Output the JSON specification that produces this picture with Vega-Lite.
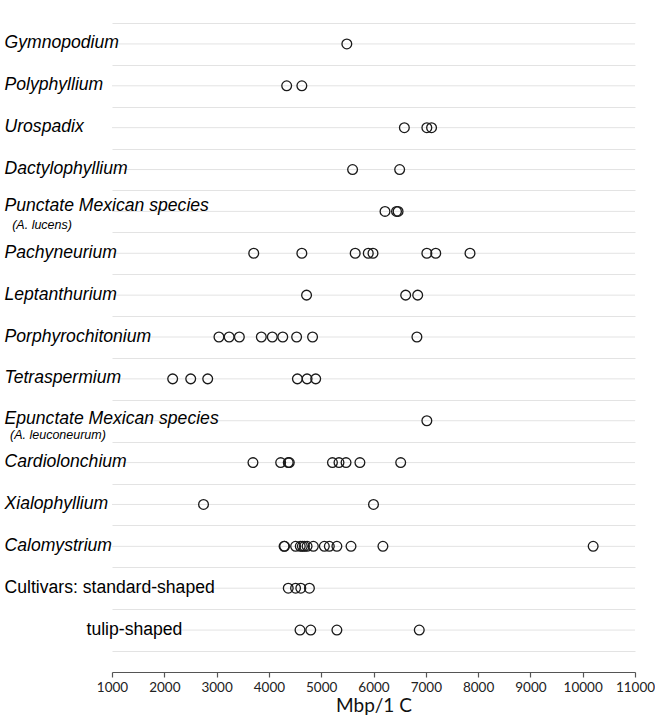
{
  "$schema": "https://vega.github.io/schema/vega-lite/v6.json",
  "width": 523,
  "height": 628,
  "padding": {"left": 4, "top": 14, "right": 0, "bottom": 0},
  "background": "white",
  "config": {"view": {"stroke": null}},
  "data": {
    "values": [
      {"section": "Gymnopodium", "genome": 5490},
      {"section": "Polyphyllium", "genome": 4340},
      {"section": "Polyphyllium", "genome": 4630},
      {"section": "Urospadix", "genome": 6590},
      {"section": "Urospadix", "genome": 7020},
      {"section": "Urospadix", "genome": 7110},
      {"section": "Dactylophyllium", "genome": 5600},
      {"section": "Dactylophyllium", "genome": 6500},
      {"section": "Punctate Mexican species", "genome": 6220},
      {"section": "Punctate Mexican species", "genome": 6440},
      {"section": "Punctate Mexican species", "genome": 6470},
      {"section": "Pachyneurium", "genome": 3710},
      {"section": "Pachyneurium", "genome": 4630},
      {"section": "Pachyneurium", "genome": 5650},
      {"section": "Pachyneurium", "genome": 5900},
      {"section": "Pachyneurium", "genome": 5990},
      {"section": "Pachyneurium", "genome": 7020},
      {"section": "Pachyneurium", "genome": 7190},
      {"section": "Pachyneurium", "genome": 7845},
      {"section": "Leptanthurium", "genome": 4720},
      {"section": "Leptanthurium", "genome": 6615},
      {"section": "Leptanthurium", "genome": 6845},
      {"section": "Porphyrochitonium", "genome": 3045},
      {"section": "Porphyrochitonium", "genome": 3240},
      {"section": "Porphyrochitonium", "genome": 3435},
      {"section": "Porphyrochitonium", "genome": 3855},
      {"section": "Porphyrochitonium", "genome": 4065},
      {"section": "Porphyrochitonium", "genome": 4265},
      {"section": "Porphyrochitonium", "genome": 4530},
      {"section": "Porphyrochitonium", "genome": 4835},
      {"section": "Porphyrochitonium", "genome": 6830},
      {"section": "Tetraspermium", "genome": 2160},
      {"section": "Tetraspermium", "genome": 2505},
      {"section": "Tetraspermium", "genome": 2830},
      {"section": "Tetraspermium", "genome": 4545},
      {"section": "Tetraspermium", "genome": 4730},
      {"section": "Tetraspermium", "genome": 4895},
      {"section": "Epunctate Mexican species", "genome": 7020},
      {"section": "Cardiolonchium", "genome": 3695},
      {"section": "Cardiolonchium", "genome": 4225},
      {"section": "Cardiolonchium", "genome": 4370},
      {"section": "Cardiolonchium", "genome": 4390},
      {"section": "Cardiolonchium", "genome": 5215},
      {"section": "Cardiolonchium", "genome": 5340},
      {"section": "Cardiolonchium", "genome": 5475},
      {"section": "Cardiolonchium", "genome": 5740},
      {"section": "Cardiolonchium", "genome": 6520},
      {"section": "Xialophyllium", "genome": 2750},
      {"section": "Xialophyllium", "genome": 6000},
      {"section": "Calomystrium", "genome": 4290},
      {"section": "Calomystrium", "genome": 4300},
      {"section": "Calomystrium", "genome": 4510},
      {"section": "Calomystrium", "genome": 4600},
      {"section": "Calomystrium", "genome": 4640},
      {"section": "Calomystrium", "genome": 4680},
      {"section": "Calomystrium", "genome": 4730},
      {"section": "Calomystrium", "genome": 4850},
      {"section": "Calomystrium", "genome": 5060},
      {"section": "Calomystrium", "genome": 5155},
      {"section": "Calomystrium", "genome": 5300},
      {"section": "Calomystrium", "genome": 5570},
      {"section": "Calomystrium", "genome": 6180},
      {"section": "Calomystrium", "genome": 10200},
      {"section": "Cultivars: standard-shaped", "genome": 4370},
      {"section": "Cultivars: standard-shaped", "genome": 4510},
      {"section": "Cultivars: standard-shaped", "genome": 4610},
      {"section": "Cultivars: standard-shaped", "genome": 4775},
      {"section": "tulip-shaped", "genome": 4595},
      {"section": "tulip-shaped", "genome": 4800},
      {"section": "tulip-shaped", "genome": 5300},
      {"section": "tulip-shaped", "genome": 6875}
    ]
  },
  "resolve": {"axis": {"y": "independent"}},
  "layer": [
    {
      "transform": [{"aggregate": [{"op": "count", "as": "n"}], "groupby": ["section"]}],
      "mark": {"type": "rule", "color": "#e3e3e3", "strokeWidth": 1},
      "encoding": {
        "y": {
          "field": "section",
          "type": "nominal",
          "scale": {
            "type": "band",
            "paddingInner": 0,
            "paddingOuter": 0,
            "domain": ["Gymnopodium", "Polyphyllium", "Urospadix", "Dactylophyllium", "Punctate Mexican species", "Pachyneurium", "Leptanthurium", "Porphyrochitonium", "Tetraspermium", "Epunctate Mexican species", "Cardiolonchium", "Xialophyllium", "Calomystrium", "Cultivars: standard-shaped", "tulip-shaped"]
          },
          "axis": {
            "orient": "left",
            "title": null,
            "grid": false,
            "domain": false,
            "ticks": false,
            "tickSize": 0,
            "labelExpr": "datum.value == 'Punctate Mexican species' ? '(A. lucens)' : datum.value == 'Epunctate Mexican species' ? '(A. leuconeurum)' : ''",
            "labelAlign": "left",
            "labelFont": "Liberation Sans",
            "labelFontStyle": "italic",
            "labelFontSize": 12.5,
            "labelColor": "#000000",
            "labelOffset": 14,
            "labelLimit": 300,
            "labelPadding": {"condition": {"test": "datum.value == 'Epunctate Mexican species'", "value": 102.5}, "value": 100.3}
          }
        }
      }
    },
    {
      "mark": {"type": "point", "filled": false, "size": 95, "stroke": "#1a1a1a", "strokeWidth": 1.3, "opacity": 1},
      "encoding": {
        "x": {
          "field": "genome",
          "type": "quantitative",
          "scale": {"domain": [1000, 11000], "nice": false, "zero": false},
          "axis": {
            "title": "Mbp/1 C",
            "values": [1000, 2000, 3000, 4000, 5000, 6000, 7000, 8000, 9000, 10000, 11000],
            "format": "d",
            "grid": false,
            "offset": 21,
            "domainColor": "#555555",
            "domainWidth": 1.2,
            "tickColor": "#555555",
            "tickWidth": 1.2,
            "tickSize": 5,
            "labelFont": "Lato",
            "labelFontSize": 13.5,
            "labelColor": "#222222",
            "labelPadding": 3,
            "labelFlush": false,
            "labelOverlap": false,
            "titleFont": "Lato",
            "titleFontSize": 19,
            "titleFontWeight": "normal",
            "titleColor": "#111111",
            "titlePadding": 3
          }
        },
        "y": {
          "field": "section",
          "type": "nominal",
          "scale": {
            "type": "band",
            "paddingInner": 0,
            "paddingOuter": 0,
            "domain": ["Gymnopodium", "Polyphyllium", "Urospadix", "Dactylophyllium", "Punctate Mexican species", "Pachyneurium", "Leptanthurium", "Porphyrochitonium", "Tetraspermium", "Epunctate Mexican species", "Cardiolonchium", "Xialophyllium", "Calomystrium", "Cultivars: standard-shaped", "tulip-shaped"]
          },
          "axis": {
            "orient": "left",
            "title": null,
            "grid": true,
            "tickBand": "extent",
            "gridColor": "#e3e3e3",
            "gridWidth": 1,
            "domain": false,
            "ticks": false,
            "tickSize": 0,
            "zindex": 1,
            "labelAlign": "left",
            "labelBaseline": "middle",
            "labelFont": "Liberation Sans",
            "labelFontSize": 17.6,
            "labelColor": "#000000",
            "labelLimit": 300,
            "labelFontStyle": {"condition": {"test": "datum.value == 'Cultivars: standard-shaped' || datum.value == 'tulip-shaped'", "value": "normal"}, "value": "italic"},
            "labelOffset": {"condition": [{"test": "datum.value == 'Punctate Mexican species'", "value": -5.5}, {"test": "datum.value == 'Epunctate Mexican species'", "value": -2}], "value": -1},
            "labelPadding": {"condition": {"test": "datum.value == 'tulip-shaped'", "value": 26}, "value": 108}
          }
        }
      }
    }
  ]
}
